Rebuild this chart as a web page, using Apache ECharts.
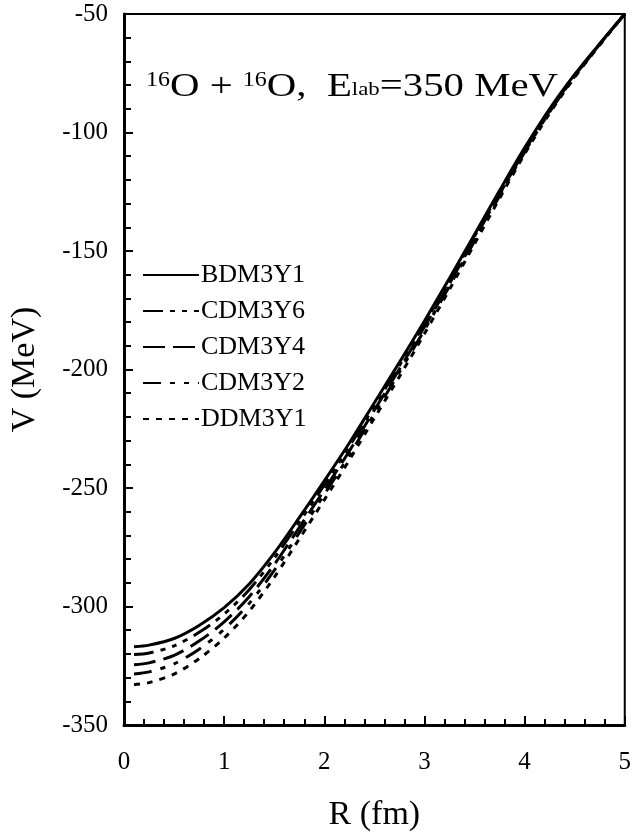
<!DOCTYPE html>
<html>
<head>
<meta charset="utf-8">
<script src="https://cdn.jsdelivr.net/npm/echarts@6/dist/echarts.min.js"></script>
<style>html,body{margin:0;padding:0;background:#fff;}#c{width:634px;height:837px;}</style>
</head>
<body>
<div id="c"></div>
<script>
// R (fm)
var R = [0.1, 0.25, 0.5, 0.75, 1.0, 1.25, 1.5, 1.75, 2.0, 2.25, 2.5, 2.75, 3.0, 3.25, 3.5, 3.75, 4.0, 4.25, 4.5, 4.75, 5.0];
var BDM3Y1 = [-317, -316.3, -313.5, -308, -300.5, -290.5, -277.5, -262.5, -247, -231, -214, -197, -179.5, -161.5, -143, -124.5, -106.5, -90, -75.5, -62.5, -50];
var CDM3Y6 = [-320.3, -319.6, -316.6, -310.9, -303.2, -292.9, -279.6, -264.4, -248.7, -232.5, -215.4, -198.3, -180.6, -162.5, -143.8, -125.2, -107, -90.4, -75.8, -62.6, -50];
var CDM3Y4 = [-324.6, -323.8, -320.6, -314.6, -306.5, -295.9, -282.3, -266.7, -250.8, -234.4, -217.1, -199.8, -182, -163.7, -144.9, -126, -107.7, -90.9, -76.1, -62.8, -50];
var CDM3Y2 = [-328.5, -327.6, -324.2, -318, -309.6, -298.7, -284.8, -268.9, -252.7, -236.1, -218.6, -201.2, -183.3, -164.8, -145.8, -126.8, -108.3, -91.3, -76.3, -62.9, -50];
var DDM3Y1 = [-333, -332.1, -328.5, -322, -313.3, -302, -287.7, -271.5, -255, -238.2, -220.5, -203, -184.9, -166.2, -147, -127.8, -109.1, -91.9, -76.7, -63.1, -50];
var seriesNames = ['BDM3Y1', 'CDM3Y6', 'CDM3Y4', 'CDM3Y2', 'DDM3Y1'];
var seriesValues = [BDM3Y1, CDM3Y6, CDM3Y4, CDM3Y2, DDM3Y1];
var dashTypes = ['solid', [20, 7, 5, 7, 5, 7, 5, 7], [22, 8], [18, 9, 5, 9, 5, 9], [6, 7]];

var FONT = 'Liberation Serif';

function pairs(xs, ys) { return xs.map(function (x, i) { return [x, ys[i]]; }); }

var series = seriesNames.map(function (name, k) {
  return {
    name: name,
    type: 'line',
    data: pairs(R, seriesValues[k]),
    symbol: 'none',
    showSymbol: false,
    smooth: 0.3,
    z: 10 - k,
    lineStyle: { color: '#000', width: 3, type: dashTypes[k] },
    itemStyle: { color: '#000' }
  };
});

var chart = echarts.init(document.getElementById('c'), null, { renderer: 'canvas' });
chart.setOption({
  animation: false,
  backgroundColor: '#fff',
  grid: { left: 123, right: 8, top: 14, bottom: 110, show: true, borderColor: '#000', borderWidth: 2, backgroundColor: 'transparent' },
  legend: {
    orient: 'vertical',
    left: 142,
    top: 262,
    padding: 0,
    itemWidth: 56,
    itemHeight: 14,
    itemGap: 10,
    data: seriesNames,
    itemStyle: { opacity: 0 },
    textStyle: { fontFamily: FONT, fontSize: 26, color: '#000', lineHeight: 25, padding: [0, 0, 0, -3] }
  },
  xAxis: {
    type: 'value', min: 0, max: 5, interval: 1,
    name: 'R (fm)', nameLocation: 'middle', nameGap: 73,
    nameTextStyle: { fontFamily: FONT, fontSize: 34, color: '#000' },
    axisLine: { onZero: false, lineStyle: { color: '#000', width: 3 } },
    axisTick: { inside: true, length: 9, lineStyle: { color: '#000', width: 2 } },
    minorTick: { show: true, splitNumber: 5, length: 6, lineStyle: { color: '#000', width: 2 } },
    axisLabel: { fontFamily: FONT, fontSize: 25, color: '#000', margin: 25 },
    splitLine: { show: false }
  },
  yAxis: {
    type: 'value', min: -350, max: -50, interval: 50,
    name: 'V (MeV)', nameLocation: 'middle', nameGap: 82,
    nameTextStyle: { fontFamily: FONT, fontSize: 34, color: '#000' },
    axisLine: { onZero: false, lineStyle: { color: '#000', width: 3 } },
    axisTick: { inside: true, length: 9, lineStyle: { color: '#000', width: 2 } },
    minorTick: { show: true, splitNumber: 5, length: 7, lineStyle: { color: '#000', width: 2 } },
    axisLabel: { fontFamily: FONT, fontSize: 25, color: '#000', margin: 16 },
    splitLine: { show: false }
  },
  graphic: [{
    type: 'text',
    x: 146,
    y: 70,
    scaleX: 1.2,
    scaleY: 1,
    z: 100,
    style: {
      text: '{sup|16}{n|O + }{sup|16}{n|O,  E}{sub|lab}{n|=350 MeV}',
      fill: '#000',
      rich: {
        n: { fontFamily: FONT, fontSize: 34, lineHeight: 34, verticalAlign: 'bottom', fill: '#000' },
        sup: { fontFamily: FONT, fontSize: 20, lineHeight: 20, verticalAlign: 'top', padding: [1, 0, 0, 0], fill: '#000' },
        sub: { fontFamily: FONT, fontSize: 19, lineHeight: 19, verticalAlign: 'bottom', padding: [0, 0, 4, 0], fill: '#000' }
      }
    }
  }],
  series: series
});
</script>
</body>
</html>
